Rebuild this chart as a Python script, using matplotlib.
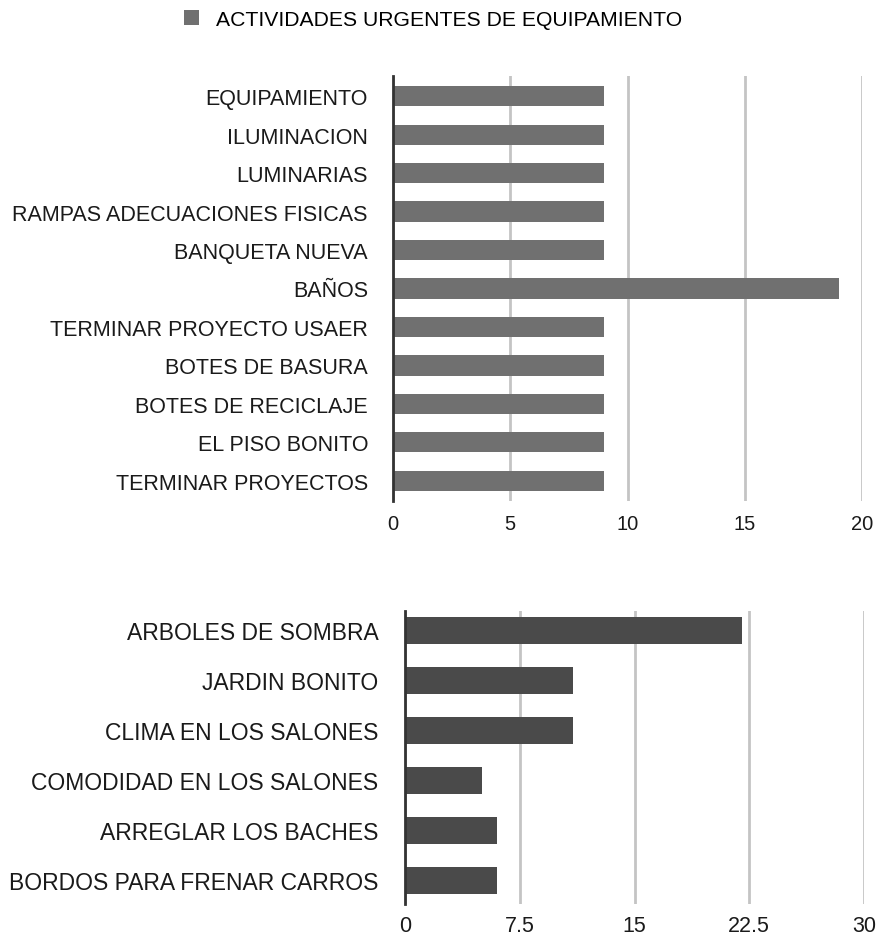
import matplotlib.pyplot as plt

plt.rcParams['font.family'] = ['Liberation Sans', 'DejaVu Sans']

# top chart data
top_labels = ['EQUIPAMIENTO', 'ILUMINACION', 'LUMINARIAS', 'RAMPAS ADECUACIONES FISICAS',
              'BANQUETA NUEVA', 'BAÑOS', 'TERMINAR PROYECTO USAER', 'BOTES DE BASURA',
              'BOTES DE RECICLAJE', 'EL PISO BONITO', 'TERMINAR PROYECTOS']
top_values = [9, 9, 9, 9, 9, 19, 9, 9, 9, 9, 9]
top_ticks = [0, 5, 10, 15, 20]
legend_label = 'ACTIVIDADES URGENTES DE EQUIPAMIENTO'

# bottom chart data
bot_labels = ['ARBOLES DE SOMBRA', 'JARDIN BONITO', 'CLIMA EN LOS SALONES',
              'COMODIDAD EN LOS SALONES', 'ARREGLAR LOS BACHES', 'BORDOS PARA FRENAR CARROS']
bot_values = [22, 11, 11, 5, 6, 6]
bot_ticks = [0, 7.5, 15, 22.5, 30]
bot_ticklabels = ['0', '7.5', '15', '22.5', '30']

W, H = 876, 937
fig = plt.figure(figsize=(W / 100, H / 100), dpi=100)


def style(ax, ticks):
    for s in ['top', 'right', 'bottom']:
        ax.spines[s].set_visible(False)
    ax.spines['left'].set_color('#333333')
    ax.spines['left'].set_linewidth(2)
    ax.set_xticks(ticks)
    ax.grid(axis='x', color='#c4c4c4', linewidth=2)
    ax.set_axisbelow(True)
    ax.tick_params(axis='both', length=0, colors='#1a1a1a')


# top chart
ax1 = fig.add_axes([393 / W, (H - 502) / H, 469 / W, 425 / H])
ax1.barh(range(len(top_labels)), top_values, height=0.52, color='#707070', label=legend_label)
ax1.set_yticks(range(len(top_labels)))
ax1.set_yticklabels(top_labels)
ax1.set_xlim(0, 20)
ax1.set_ylim(10.52, -0.52)
style(ax1, top_ticks)
ax1.tick_params(axis='x', pad=9, labelsize=14.5)
ax1.tick_params(axis='y', pad=18, labelsize=15.5)
fig.legend(*ax1.get_legend_handles_labels(), loc='center', bbox_to_anchor=(433 / W, (H - 20) / H),
           frameon=False, fontsize=15.2, handlelength=0.7, handleheight=0.7, handletextpad=0.8)

# bottom chart
ax2 = fig.add_axes([405 / W, 32 / H, 459 / W, 293 / H])
ax2.barh(range(len(bot_labels)), bot_values, height=0.54, color='#4a4a4a')
ax2.set_yticks(range(len(bot_labels)))
ax2.set_yticklabels(bot_labels)
ax2.set_xlim(0, 30)
ax2.set_ylim(5.48, -0.38)
style(ax2, bot_ticks)
ax2.set_xticklabels(bot_ticklabels)
ax2.tick_params(axis='x', pad=8, labelsize=15.5)
ax2.tick_params(axis='y', pad=19, labelsize=16.5)

fig.savefig('out.png', dpi=100)
